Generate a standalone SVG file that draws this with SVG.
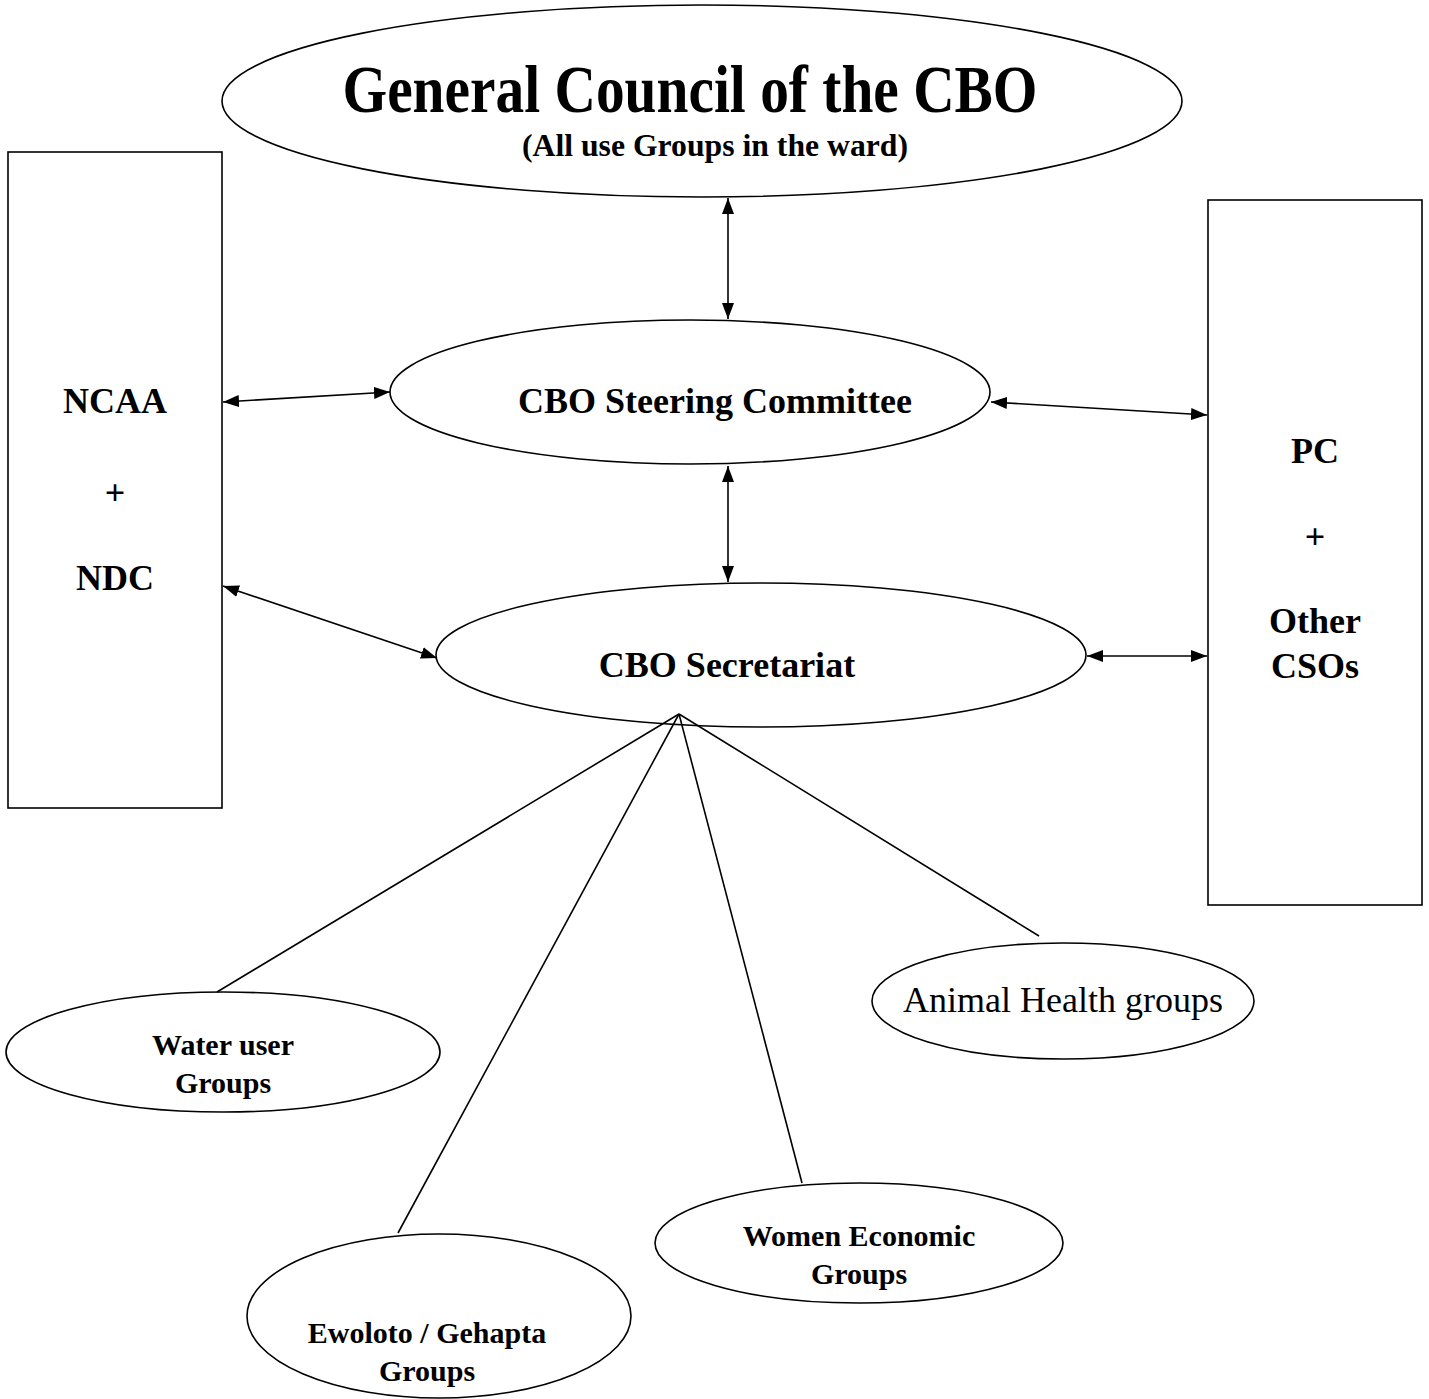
<svg xmlns="http://www.w3.org/2000/svg" width="1429" height="1399" viewBox="0 0 1429 1399">
<style>
.shape{fill:#fff;stroke:#000;stroke-width:1.6}
.line{stroke:#000;stroke-width:1.6;fill:none}
.arr{stroke:#000;stroke-width:1.6;fill:none;marker-start:url(#ah);marker-end:url(#ah)}
text{font-family:"Liberation Serif","Times New Roman",serif;fill:#000;text-anchor:middle}
.b{font-weight:bold}
</style>
<defs>
<marker id="ah" viewBox="0 0 16 12" refX="16" refY="6" markerWidth="16" markerHeight="12" markerUnits="userSpaceOnUse" orient="auto-start-reverse">
<path d="M0,0 L16,6 L0,12 Z" fill="#000"/>
</marker>
</defs>
<rect width="1429" height="1399" fill="#fff"/>
<g id="general-council">
<ellipse class="shape" cx="702" cy="101" rx="480" ry="96"/>
<text class="b" x="690" y="112" font-size="68" textLength="695" lengthAdjust="spacingAndGlyphs">General Council of the CBO</text>
<text class="b" x="715" y="156" font-size="32" textLength="386" lengthAdjust="spacingAndGlyphs">(All use Groups in the ward)</text>
</g>
<g id="ncaa-ndc">
<rect class="shape" x="8" y="152" width="214" height="656"/>
<text class="b" x="115" y="413" font-size="36">NCAA</text>
<text class="b" x="115" y="505" font-size="36">+</text>
<text class="b" x="115" y="590" font-size="36">NDC</text>
</g>
<g id="pc-cso">
<rect class="shape" x="1208" y="200" width="214" height="705"/>
<text class="b" x="1315" y="463" font-size="36">PC</text>
<text class="b" x="1315" y="549" font-size="36">+</text>
<text class="b" x="1315" y="633" font-size="36">Other</text>
<text class="b" x="1315" y="678" font-size="36">CSOs</text>
</g>
<g id="steering">
<ellipse class="shape" cx="690" cy="392" rx="300" ry="72"/>
<text class="b" x="715" y="413" font-size="36">CBO Steering Committee</text>
</g>
<g id="secretariat">
<ellipse class="shape" cx="761" cy="655" rx="325" ry="72"/>
<text class="b" x="727" y="677" font-size="36">CBO Secretariat</text>
</g>
<g id="water">
<ellipse class="shape" cx="223" cy="1052" rx="217" ry="60"/>
<text class="b" x="223" y="1055" font-size="30">Water user</text>
<text class="b" x="223" y="1093" font-size="30">Groups</text>
</g>
<g id="ewoloto">
<ellipse class="shape" cx="439" cy="1316" rx="192" ry="82"/>
<text class="b" x="427" y="1343" font-size="30">Ewoloto / Gehapta</text>
<text class="b" x="427" y="1381" font-size="30">Groups</text>
</g>
<g id="women">
<ellipse class="shape" cx="859" cy="1243" rx="204" ry="60"/>
<text class="b" x="859" y="1246" font-size="30">Women Economic</text>
<text class="b" x="859" y="1284" font-size="30">Groups</text>
</g>
<g id="animal">
<ellipse class="shape" cx="1063" cy="1001" rx="191" ry="58"/>
<text x="1063" y="1012" font-size="36">Animal Health groups</text>
</g>
<g id="connectors">
<line class="arr" x1="728" y1="198" x2="728" y2="319"/>
<line class="arr" x1="728" y1="466" x2="728" y2="582"/>
<line class="arr" x1="223" y1="402" x2="390" y2="392"/>
<line class="arr" x1="991" y1="402" x2="1207" y2="415"/>
<line class="arr" x1="223" y1="586" x2="437" y2="658"/>
<line class="arr" x1="1087" y1="656" x2="1207" y2="656"/>
<line class="line" x1="679" y1="714" x2="217" y2="992"/>
<line class="line" x1="679" y1="714" x2="398" y2="1233"/>
<line class="line" x1="679" y1="714" x2="802" y2="1183"/>
<line class="line" x1="679" y1="714" x2="1039" y2="936"/>
</g>
</svg>
